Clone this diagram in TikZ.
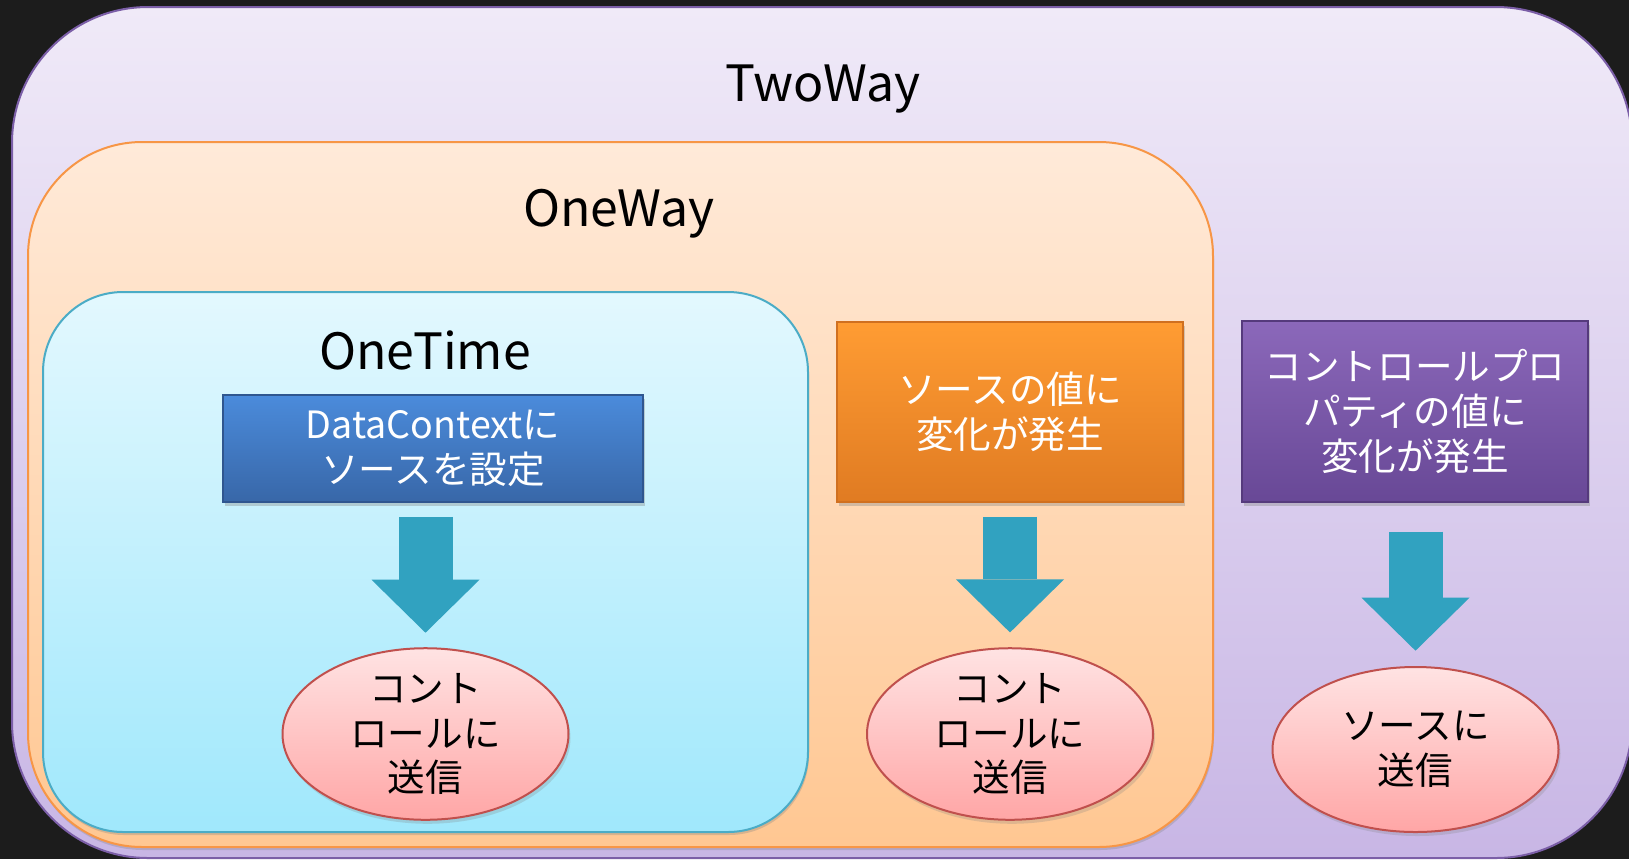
\documentclass[tikz,border=0pt]{standalone}
\usepackage{fontspec}
\setmainfont{Noto Sans CJK JP}
\usetikzlibrary{arrows.meta,positioning,shapes.geometric,shadows,calc}

\definecolor{bgdark}{HTML}{1C1C1C}
\definecolor{twtop}{HTML}{F0EAF8}
\definecolor{twbot}{HTML}{C8B6E5}
\definecolor{twline}{HTML}{7B5EA7}
\definecolor{owtop}{HTML}{FFEAD9}
\definecolor{owbot}{HTML}{FFC792}
\definecolor{owline}{HTML}{F79646}
\definecolor{ottop}{HTML}{E3F8FE}
\definecolor{otbot}{HTML}{A0E8FC}
\definecolor{otline}{HTML}{4BACC6}
\definecolor{bluetop}{HTML}{4B8BDB}
\definecolor{bluebot}{HTML}{3867A8}
\definecolor{blueline}{HTML}{2F568F}
\definecolor{orgtop}{HTML}{FF9C33}
\definecolor{orgbot}{HTML}{E07B22}
\definecolor{orgline}{HTML}{D07020}
\definecolor{purtop}{HTML}{8B68BA}
\definecolor{purbot}{HTML}{684896}
\definecolor{purline}{HTML}{553A7C}
\definecolor{pinktop}{HTML}{FFE3E3}
\definecolor{pinkbot}{HTML}{FFA6A6}
\definecolor{ellred}{HTML}{C0504D}
\definecolor{arrowblue}{HTML}{31A2C0}

\begin{document}
\begin{tikzpicture}[x=1pt,y=1pt]
  \tikzstyle{frame}=[draw,line width=1pt,inner sep=0pt]
  \tikzstyle{title}=[font=\fontsize{25}{30}\selectfont,anchor=base]
  \tikzstyle{event}=[draw,line width=0.8pt,inner sep=0pt,minimum width=173pt,minimum height=90pt,align=center,text=white,
    font=\fontsize{18.8}{22.3}\selectfont,drop shadow={shadow xshift=1pt,shadow yshift=-2pt,opacity=.35}]
  \tikzstyle{send}=[ellipse,draw=ellred,line width=1pt,top color=pinktop,bottom color=pinkbot,inner sep=0pt,
    minimum width=143pt,minimum height=82.5pt,align=center,font=\fontsize{18.8}{22.3}\selectfont,
    drop shadow={shadow xshift=1pt,shadow yshift=-2pt,opacity=.25}]
  \tikzstyle{bigarrow}=[line width=27pt,draw=arrowblue,-{Triangle[width=54pt,length=26.5pt,line width=0pt]}]
  \fill[bgdark] (0,0) rectangle (814.5,-429.5);
  \useasboundingbox (0,0) rectangle (814.5,-429.5);
  % nested binding modes
  \node[frame,draw=twline,top color=twtop,bottom color=twbot,rounded corners=68pt,
    minimum width=810pt,minimum height=425.5pt] (twoway) at (411,-216.25) {};
  \node[frame,draw=owline,top color=owtop,bottom color=owbot,rounded corners=57pt,
    minimum width=592.5pt,minimum height=352.5pt,drop shadow={shadow xshift=0.5pt,shadow yshift=-1.5pt,opacity=.3}] (oneway) at (310.25,-247.25) {};
  \node[frame,draw=otline,top color=ottop,bottom color=otbot,rounded corners=40pt,
    minimum width=382.5pt,minimum height=270pt,drop shadow={shadow xshift=0.5pt,shadow yshift=-1.5pt,opacity=.3}] (onetime) at (212.75,-281) {};
  \node[title] (twowaylbl) at (411.4,-50.5) {TwoWay};
  \node[title] (onewaylbl) at (309.5,-113) {OneWay};
  \node[title] (onetimelbl) at (212.5,-184.7) {OneTime};
  % triggers
  \node[event,draw=blueline,top color=bluetop,bottom color=bluebot,minimum width=210pt,minimum height=53.5pt] (dc) at (216.5,-224.25)
    {DataContextに\\ソースを設定};
  \node[event,draw=orgline,top color=orgtop,bottom color=orgbot] (src) at (505,-206) {ソースの値に\\変化が発生};
  \node[event,draw=purline,top color=purtop,bottom color=purbot,minimum height=90.5pt] (ctl) at (707.5,-205.75)
    {コントロールプロ\\パティの値に\\変化が発生};
  % results
  \node[send] (el1) at (212.75,-367) {コント\\ロールに\\送信};
  \node[send] (el2) at (505,-367) {コント\\ロールに\\送信};
  \node[send] (el3) at (707.75,-374.75) {ソースに\\送信};
  \draw[bigarrow] ($(el1.north |- dc.south)+(0,-7)$) -- ([yshift=7.25pt]el1.north);
  \draw[bigarrow] ($(el2.north |- src.south)+(0,-7)$) -- ([yshift=7.4pt]el2.north);
  \draw[bigarrow] ($(el3.north |- ctl.south)+(0,-14.35)$) -- ([yshift=7.65pt]el3.north);
\end{tikzpicture}
\end{document}
